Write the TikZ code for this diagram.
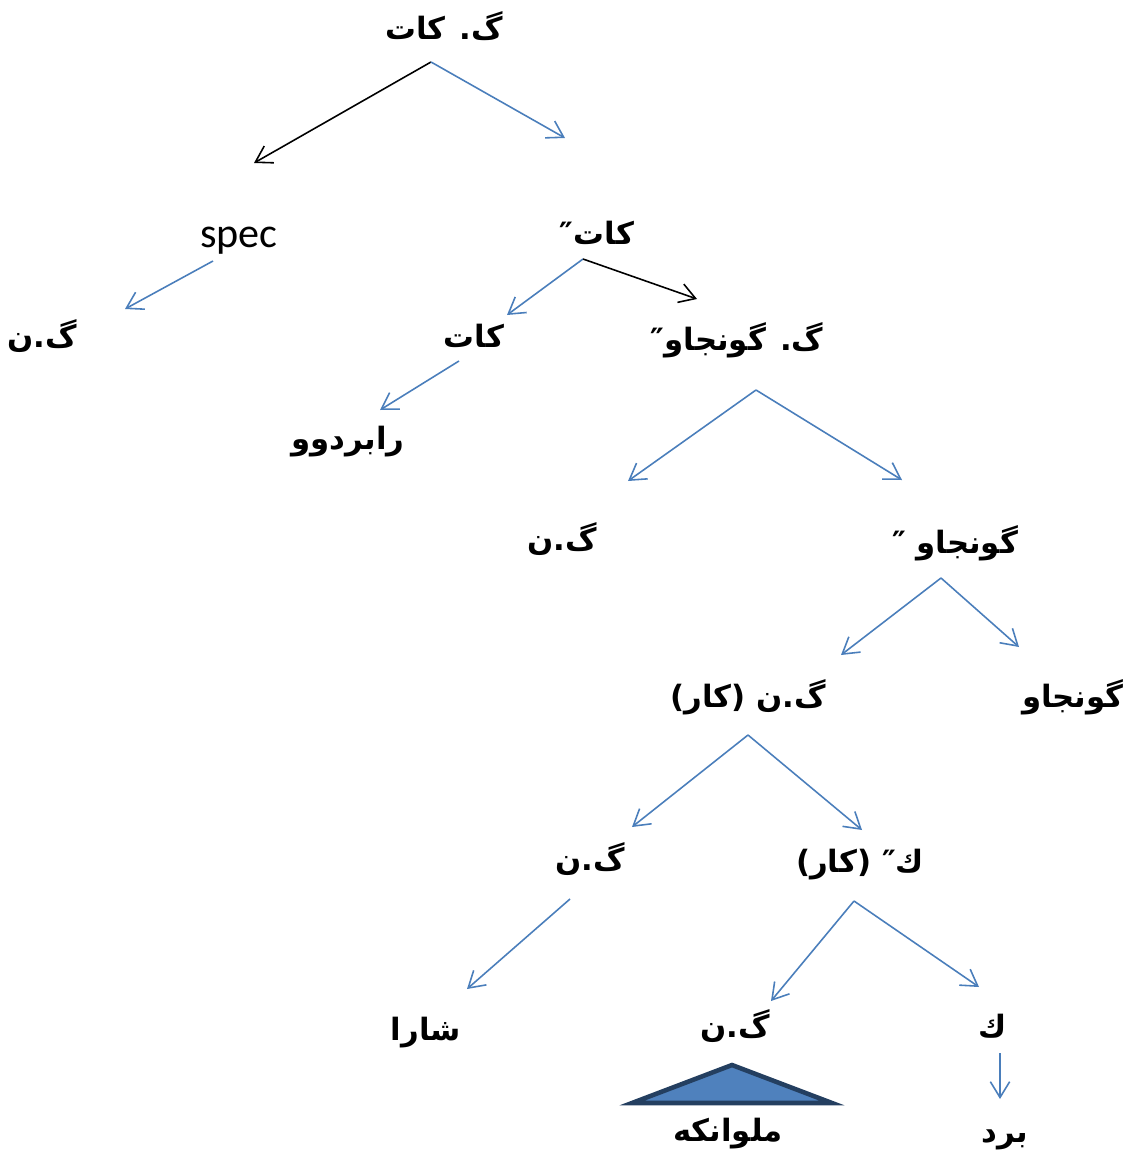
\documentclass[tikz,border=0pt]{standalone}
\usepackage{fontspec}
\newfontfamily\arabicfont[Script=Arabic]{DejaVu Sans}
\newfontfamily\specfont{Carlito}
\TeXXeTstate=1
\usetikzlibrary{arrows.meta}
\definecolor{lineblue}{HTML}{4A7EBB}
\definecolor{triblue}{HTML}{4F81BD}
\definecolor{trinavy}{HTML}{243F60}
\newcommand{\ku}[1]{{\arabicfont\bfseries\beginR #1\endR}}
\tikzset{
	ku/.style={font=\fontsize{17.5}{21}\selectfont, anchor=base, inner sep=0pt},
	bluearr/.style={draw=lineblue, line width=0.9pt, -{Straight Barb[length=9pt,width=11pt]}},
	blackarr/.style={draw=black, line width=0.9pt, -{Straight Barb[length=9pt,width=11pt]}}
}

\begin{document}
\begin{tikzpicture}[x=0.02cm, y=-0.02cm]
		%%%%% START %%%%%
		\useasboundingbox (0, 0) rectangle (1131, 1155);
		
		\node[ku] (root) at (444, 40) {\ku{گ. کات}};
		\node[font=\specfont\fontsize{24}{28}\selectfont, anchor=base, inner sep=0pt] (spec) at (239, 248) {spec};
		\node[ku] (katpp) at (597, 245) {\ku{کات″}};
		\node[ku] (gn1) at (42, 347) {\ku{گ.ن}};
		\node[ku] (kat) at (474, 347) {\ku{کات}};
		\node[ku] (gggp) at (737, 350) {\ku{گ. گونجاو″}};
		\node[ku] (rabrdw) at (348, 449) {\ku{رابردوو}};
		\node[ku] (gn2) at (562, 550) {\ku{گ.ن}};
		\node[ku] (gonjp) at (955, 553) {\ku{گونجاو ″}};
		\node[ku] (gnkar) at (748, 707) {\ku{گ.ن (کار)}};
		\node[ku, anchor=base east] (gonj) at (1124, 707) {\ku{گونجاو}};
		\node[ku] (gn3) at (590, 870) {\ku{گ.ن}};
		\node[ku] (kpkar) at (860, 872) {\ku{ك″ (کار)}};
		\node[ku] (shara) at (426, 1040) {\ku{شارا}};
		\node[ku] (gn4) at (735, 1037) {\ku{گ.ن}};
		\node[ku] (k) at (993, 1037) {\ku{ك}};
		\node[ku] (melwan) at (728, 1141) {\ku{ملوانكه}};
		\node[ku] (brd) at (1005, 1142) {\ku{برد}};
		
		% forks under the labels and arrow tips
		\coordinate (root-fork) at (431, 62);
		\coordinate (spec-tip) at (254, 163);
		\coordinate (katpp-tip) at (565, 138);
		\coordinate (spec-fork) at (213, 261);
		\coordinate (gn1-tip) at (125, 309);
		\coordinate (katpp-fork) at (583, 259);
		\coordinate (kat-tip) at (507, 315);
		\coordinate (gggp-tip) at (697, 299);
		\coordinate (kat-fork) at (459, 361);
		\coordinate (rabrdw-tip) at (380, 410);
		\coordinate (gggp-fork) at (756, 390);
		\coordinate (gn2-tip) at (628, 481);
		\coordinate (gonjp-tip) at (902, 480);
		\coordinate (gonjp-fork) at (941, 578);
		\coordinate (gnkar-tip) at (841, 655);
		\coordinate (gonj-tip) at (1019, 647);
		\coordinate (gnkar-fork) at (748, 735);
		\coordinate (gn3-tip) at (632, 827);
		\coordinate (kpkar-tip) at (862, 830);
		\coordinate (gn3-fork) at (570, 899);
		\coordinate (shara-tip) at (467, 989);
		\coordinate (kpkar-fork) at (854, 901);
		\coordinate (gn4-tip) at (771, 1001);
		\coordinate (k-tip) at (979, 987);
		\coordinate (k-fork) at (1000, 1053);
		\coordinate (brd-tip) at (1000, 1099);
		
		\draw[blackarr] (root-fork) -- (spec-tip);
		\draw[bluearr] (root-fork) -- (katpp-tip);
		\draw[bluearr] (spec-fork) -- (gn1-tip);
		\draw[bluearr] (katpp-fork) -- (kat-tip);
		\draw[blackarr] (katpp-fork) -- (gggp-tip);
		\draw[bluearr] (kat-fork) -- (rabrdw-tip);
		\draw[bluearr] (gggp-fork) -- (gn2-tip);
		\draw[bluearr] (gggp-fork) -- (gonjp-tip);
		\draw[bluearr] (gonjp-fork) -- (gnkar-tip);
		\draw[bluearr] (gonjp-fork) -- (gonj-tip);
		\draw[bluearr] (gnkar-fork) -- (gn3-tip);
		\draw[bluearr] (gnkar-fork) -- (kpkar-tip);
		\draw[bluearr] (gn3-fork) -- (shara-tip);
		\draw[bluearr] (kpkar-fork) -- (gn4-tip);
		\draw[bluearr] (kpkar-fork) -- (k-tip);
		\draw[bluearr] (k-fork) -- (brd-tip);
		
		% triangle over the phrase
		\draw[fill=triblue, draw=trinavy, line width=2.6pt] (732, 1065) -- (632, 1103) -- (832, 1103) -- cycle;
		
		%%%%% END %%%%%
\end{tikzpicture}
\end{document}
